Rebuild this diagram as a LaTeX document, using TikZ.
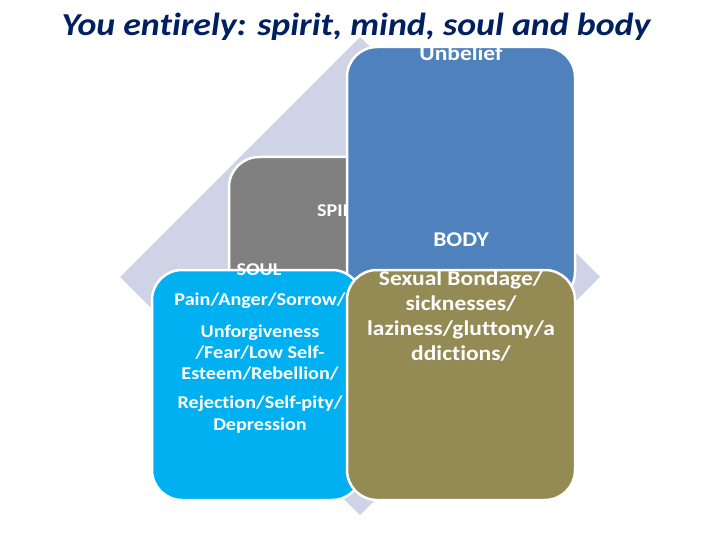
\documentclass[tikz,border=0pt]{standalone}
\usepackage{fontspec}
\setmainfont{Carlito}[FakeStretch=1.12, Ligatures=NoCommon]
\definecolor{diamondc}{RGB}{206,212,230}
\definecolor{bluec}{RGB}{79,129,189}
\definecolor{grayc}{RGB}{128,128,128}
\definecolor{cyanc}{RGB}{0,176,240}
\definecolor{olivec}{RGB}{148,138,84}
\definecolor{titlec}{RGB}{0,32,96}
\begin{document}
\begin{tikzpicture}[x=1pt,y=-1pt,
  box/.style={draw=white, line width=2.5pt, rounded corners=30pt, anchor=north west, inner sep=0pt, outer sep=0pt},
  lbl/.style={text=white, font=\bfseries\fontsize{21}{25}\selectfont, inner sep=0pt, anchor=base},
  small/.style={lbl, font=\bfseries\fontsize{18}{21}\selectfont}]
\useasboundingbox (0,0) rectangle (720,540);
\fill[diamondc] (360,37) -- (600,277) -- (360,515) -- (120,277) -- cycle;
\node[box, fill=grayc, minimum width=215pt, minimum height=235pt] (spirit) at (229,157) {};
\node[small, anchor=base west] (spl) at (317,217) {SPIRIT};
\node[box, fill=bluec, minimum width=228pt, minimum height=255pt] (mind) at (347,47) {};
\node[lbl] (unb) at (461,61) {Unbelief};
\node[lbl] (bodyl) at (461,247) {BODY};
\node[box, fill=cyanc, minimum width=210pt, minimum height=230pt] (soul) at (152,270) {};
\node[small] (soull) at (259,275) {SOUL};
\node[small] (s1) at (260,305) {Pain/Anger/Sorrow/};
\node[small] (s2) at (260,337) {Unforgiveness};
\node[small] (s3) at (260,358) {/Fear/Low Self-};
\node[small] (s4) at (260,379) {Esteem/Rebellion/};
\node[small] (s5) at (260,408) {Rejection/Self-pity/};
\node[small] (s6) at (260,430) {Depression};
\node[box, fill=olivec, minimum width=228pt, minimum height=230pt] (body) at (347,270) {};
\node[lbl] (b1) at (461,285) {Sexual Bondage/};
\node[lbl] (b2) at (461,310) {sicknesses/};
\node[lbl] (b3) at (461,335) {laziness/gluttony/a};
\node[lbl] (b4) at (461,360) {ddictions/};
\node[anchor=base, text=titlec, inner sep=0pt, font=\bfseries\itshape\fontsize{32}{38}\selectfont] (title) at (356,36) {You entirely: spirit, mind, soul and body};
\end{tikzpicture}
\end{document}
